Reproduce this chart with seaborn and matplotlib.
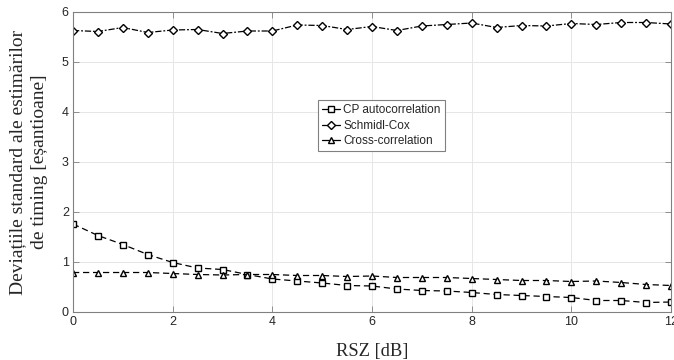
import numpy as np
import pandas as pd
import matplotlib
matplotlib.use("Agg")
import matplotlib.pyplot as plt
import seaborn as sns

snr = [0, 0.5, 1, 1.5, 2, 2.5, 3, 3.5, 4, 4.5, 5, 5.5, 6, 6.5, 7, 7.5, 8, 8.5, 9, 9.5, 10, 10.5, 11, 11.5, 12]
cp_auto = [1.76, 1.53, 1.35, 1.15, 0.99, 0.88, 0.85, 0.75, 0.66, 0.62, 0.58, 0.53, 0.52, 0.46, 0.43, 0.42,
           0.39, 0.35, 0.33, 0.31, 0.29, 0.23, 0.23, 0.19, 0.20]
schmidl = [5.63, 5.61, 5.69, 5.59, 5.64, 5.65, 5.57, 5.62, 5.62, 5.74, 5.73, 5.65, 5.71, 5.63, 5.72, 5.75,
           5.78, 5.69, 5.73, 5.72, 5.77, 5.75, 5.79, 5.79, 5.76]
cross = [0.79, 0.79, 0.79, 0.79, 0.77, 0.75, 0.74, 0.75, 0.75, 0.73, 0.73, 0.71, 0.72, 0.69, 0.69, 0.69,
         0.67, 0.65, 0.63, 0.63, 0.61, 0.62, 0.59, 0.55, 0.53]
names = ["CP autocorrelation", "Schmidl-Cox", "Cross-correlation"]
xticks = [0, 2, 4, 6, 8, 10, 12]
yticks = [0, 1, 2, 3, 4, 5, 6]

sns.set_theme(style="whitegrid")
plt.rcParams['font.family'] = ['Liberation Sans', 'DejaVu Sans']

fig = plt.figure(figsize=(6.74, 3.6), dpi=100)
ax = fig.add_axes([73/674, 1-312/360, (671-73)/674, 300/360])

df = pd.concat([
    pd.DataFrame({"x": snr, "y": cp_auto, "s": names[0]}),
    pd.DataFrame({"x": snr, "y": schmidl, "s": names[1]}),
    pd.DataFrame({"x": snr, "y": cross, "s": names[2]}),
])

styles = {names[0]: ("s", (0, (5, 3))), names[1]: ("D", (0, (5, 1.5, 1.5, 1.5))), names[2]: ("^", (0, (5, 3)))}
for n in names:
    m, ls = styles[n]
    sns.lineplot(data=df[df.s == n], x="x", y="y", ax=ax, color="black", linewidth=0.9,
                 marker=m, markersize=5 if m != "D" else 4.5, markerfacecolor="white",
                 markeredgecolor="black", markeredgewidth=1.0, linestyle=ls, label=n)

ax.set_xlim(0, 12)
ax.set_ylim(0, 6)
ax.set_xticks(xticks)
ax.set_yticks(yticks)
ax.grid(True, color="#e6e6e6", linewidth=0.7)
for s in ax.spines.values():
    s.set_color("#808080")
    s.set_linewidth(0.8)
    s.set_visible(True)
ax.tick_params(direction="in", length=4, width=0.6, colors="#808080", labelcolor="#262626",
               labelsize=9, top=True, right=True, bottom=True, left=True, pad=3)

ax.set_xlabel("RSZ [dB]", family=["Liberation Serif"], fontsize=13.3, color="#262626", labelpad=11)
ax.set_ylabel("Deviațiile standard ale estimărilor\nde timing [eșantioane]", family=["Liberation Serif"],
              fontsize=14, color="#262626", labelpad=10, linespacing=1.4)

leg = ax.legend(loc="upper left", bbox_to_anchor=((318-73)/598, (312-100)/300), fontsize=8.5,
                frameon=True, fancybox=False, edgecolor="#808080", framealpha=1,
                handlelength=1.5, handletextpad=0.3, borderpad=0.35, labelspacing=0.3,
                borderaxespad=0)
leg.get_frame().set_linewidth(0.8)
for h in leg.get_lines():
    h.set_linestyle("-")

fig.savefig("out.png", dpi=100)
